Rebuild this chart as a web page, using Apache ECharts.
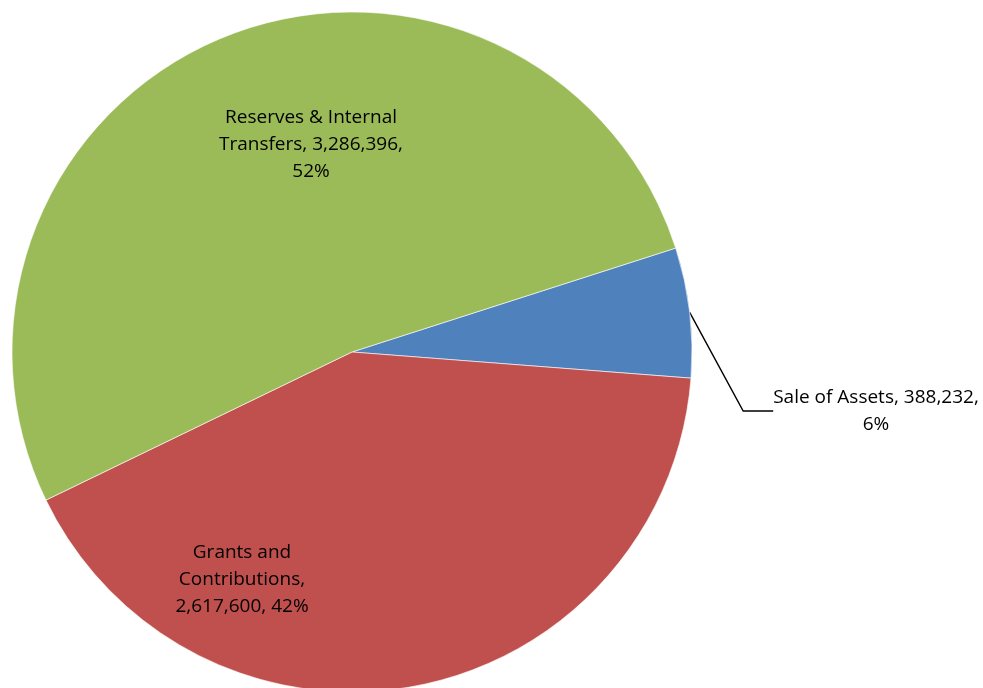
<!DOCTYPE html>
<html>
<head>
<meta charset="utf-8">
<script src="https://cdn.jsdelivr.net/npm/echarts@6/dist/echarts.min.js"></script>
<style>
  html, body { margin: 0; padding: 0; background: #fff; }
  #chart { width: 983px; height: 688px; }
</style>
</head>
<body>
<div id="chart"></div>
<script>
// data
var categories = ['Sale of Assets', 'Grants and Contributions', 'Reserves & Internal Transfers'];
var values = [388232, 2617600, 3286396];
var colors = ['#4F81BD', '#C0504D', '#9BBB59'];
// label text as Excel wrapped it
var labelTexts = [
  'Sale of Assets, 388,232,\n6%',
  'Grants and\nContributions,\n2,617,600, 42%',
  'Reserves & Internal\nTransfers, 3,286,396,\n52%'
];
// where each label sits (centre of the text block)
var labelSpots = [[876, 411], [242, 580], [311, 145]];

var chart = echarts.init(document.getElementById('chart'));

var data = categories.map(function (c, i) {
  return {
    name: c,
    value: values[i],
    itemStyle: { color: colors[i] },
    label: { position: i === 0 ? 'outside' : 'inside' },
    labelLine: { show: i === 0 }
  };
});

chart.setOption({
  animation: false,
  series: [
    {
      type: 'pie',
      center: [352, 352],
      radius: 340,
      startAngle: 17.8,
      clockwise: true,
      avoidLabelOverlap: false,
      data: data,
      itemStyle: {
        borderColor: '#ffffff',
        borderWidth: 0.6
      },
      label: {
        show: true,
        formatter: function (p) {
          return labelTexts[p.dataIndex];
        },
        color: '#000',
        fontFamily: 'Open Sans',
        fontSize: 19,
        lineHeight: 27,
        align: 'center'
      },
      labelLine: {
        lineStyle: { color: '#000', width: 1.4 },
        smooth: false
      },
      labelLayout: function (params) {
        var s = labelSpots[params.dataIndex];
        return {
          x: s[0],
          y: s[1],
          align: 'center',
          verticalAlign: 'middle'
        };
      }
    }
  ]
});
</script>
</body>
</html>
